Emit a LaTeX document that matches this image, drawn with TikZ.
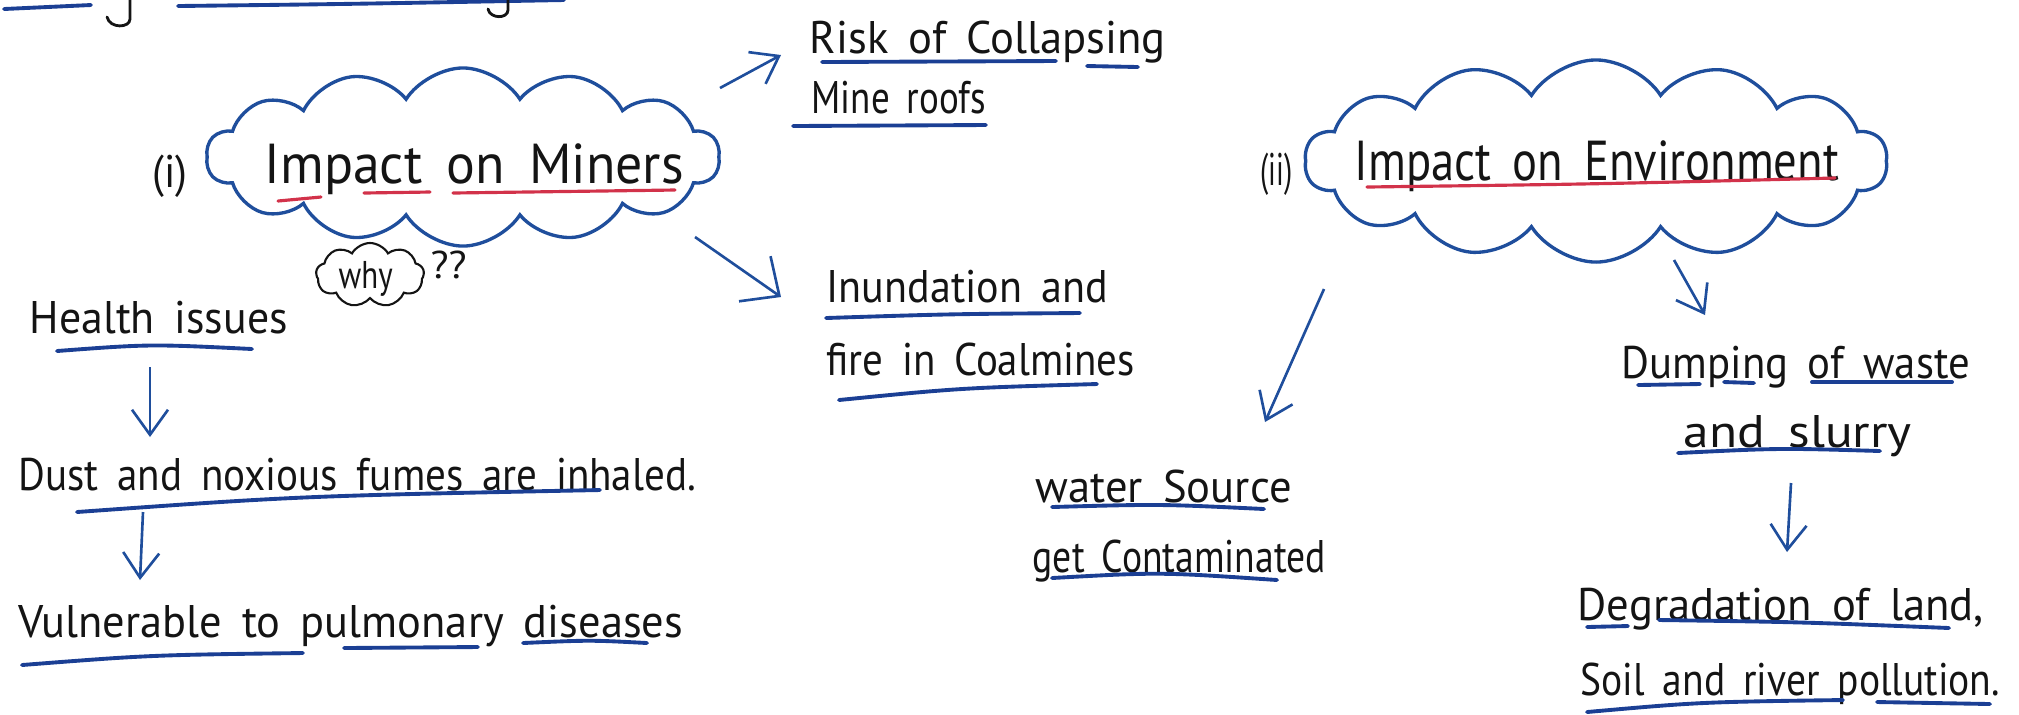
\documentclass[tikz,border=0pt]{standalone}
\usepackage{graphicx}
\usepackage{fontspec}
\setmainfont{PT Sans}[WordSpace=1.7]
\usetikzlibrary{shapes.symbols,arrows.meta}
\definecolor{inkblue}{HTML}{1F4E9C}
\definecolor{ulblue}{HTML}{1B3F94}
\definecolor{inkred}{HTML}{D2324A}
\definecolor{ink}{HTML}{141414}
\newsavebox\hwbox
\newcommand\hwfit[2]{\sbox\hwbox{#2}\pgfmathsetmacro\hwratio{#1*0.284528/\wd\hwbox}\scalebox{\hwratio}[1]{\usebox\hwbox}}
\tikzset{
 txt/.style={anchor=base west, inner sep=0pt, text=ink, font=\fontsize{13}{15}\selectfont},
 bigtxt/.style={txt, font=\fontsize{16}{19}\selectfont},
 smalltxt/.style={txt, font=\fontsize{11}{13}\selectfont},
 thought/.style={cloud, draw=inkblue, line width=0.95pt, cloud puffs=14, cloud puff arc=115, cloud ignores aspect, inner sep=0pt},
 whycloud/.style={cloud, draw=ink, line width=0.6pt, cloud puffs=9, cloud puff arc=120, cloud ignores aspect, inner sep=0pt},
 flow/.style={draw=inkblue, line width=0.75pt, -{Straight Barb[length=2.5mm,width=3.6mm,line width=0.75pt]}},
 bigflow/.style={flow, -{Straight Barb[length=3mm,width=5.5mm,line width=0.75pt]}},
 ul/.style={draw=ulblue, line width=1.1pt, line cap=round},
 ulred/.style={draw=inkred, line width=0.9pt, line cap=round},
 stub/.style={draw=ink, line width=0.8pt, line cap=round},
}
\begin{document}
\begin{tikzpicture}[x=0.01cm,y=-0.01cm]
\useasboundingbox (0,0) rectangle (2019,714);
% fragments of the line above
\draw[ul] (4,9) -- (91,5);
\draw[ul] (178,6) .. controls (350,4) .. (564,0);
\draw[stub] (130,0) -- (130,19) .. controls (130,28) and (110,29) .. (107,17);
\draw[stub] (508,0) -- (508,10) .. controls (508,19) and (490,19) .. (488,9);
% clouds
\node[thought, minimum width=5.13cm, minimum height=1.78cm] (c1) at (463,157) {};
\node[thought, minimum width=5.82cm, minimum height=2.02cm] (c2) at (1596,161) {};
\node[bigtxt] (t1) at (264,183) {\hwfit{419}{Impact on Miners}};
\node[bigtxt] (t2) at (1354,180) {\hwfit{484}{Impact on Environment}};
\node[txt] (n1) at (152,187) {\hwfit{35}{(i)}};
\node[txt] (n2) at (1260,185) {\hwfit{32}{(ii)}};
\draw[ulred] (278,201) -- (321,197);
\draw[ulred] (364,193) -- (430,192);
\draw[ulred] (453,193) -- (675,190);
\draw[ulred] (1367,187) .. controls (1600,184) .. (1835,178);
% why
\node[whycloud, minimum width=1.08cm, minimum height=0.64cm] (wc) at (370,275) {};
\node[smalltxt] (why) at (338,288) {\hwfit{54}{why}};
\node[smalltxt] (qq) at (430,278) {\hwfit{36}{??}};
% texts
\node[txt] (risk1) at (809,53) {\hwfit{356}{Risk of Collapsing}};
\node[txt] (risk2) at (811,113) {\hwfit{174}{Mine roofs}};
\node[txt] (inu1) at (826,302) {\hwfit{281}{Inundation and}};
\node[txt] (inu2) at (826,375) {\hwfit{308}{fire in Coalmines}};
\node[txt] (hea) at (29,333) {\hwfit{258}{Health issues}};
\node[txt] (dust) at (18,490) {\hwfit{677}{Dust and noxious fumes are inhaled.}};
\node[txt] (vul) at (18,637) {\hwfit{664}{Vulnerable to pulmonary diseases}};
\node[txt] (wat1) at (1035,502) {\hwfit{256}{water Source}};
\node[txt] (wat2) at (1032,572) {\hwfit{293}{get Contaminated}};
\node[txt] (dum1) at (1621,378) {\hwfit{348}{Dumping of waste}};
\node[txt] (dum2) at (1683,447) {\hwfit{228}{and slurry}};
\node[txt] (deg1) at (1577,620) {\hwfit{406}{Degradation of land,}};
\node[txt] (deg2) at (1580,695) {\hwfit{419}{Soil and river pollution.}};
% underlines
\draw[ul] (822,62) -- (1056,61);
\draw[ul] (1087,66) -- (1138,67);
\draw[ul] (793,126) -- (986,125);
\draw[ul] (826,318) .. controls (950,314) .. (1080,313);
\draw[ul] (839,400) .. controls (960,388) .. (1097,384);
\draw[ul] (57,351) .. controls (150,344) .. (252,349);
\draw[ul] (77,512) .. controls (300,496) .. (600,490);
\draw[ul] (22,665) .. controls (150,655) .. (303,653);
\draw[ul] (344,648) -- (478,647);
\draw[ul] (523,643) .. controls (590,640) .. (647,643);
\draw[ul] (1052,507) .. controls (1160,504) .. (1264,509);
\draw[ul] (1052,578) .. controls (1160,572) .. (1277,580);
\draw[ul] (1638,385) -- (1700,384);
\draw[ul] (1724,382) -- (1754,383);
\draw[ul] (1812,382) -- (1952,382);
\draw[ul] (1678,453) .. controls (1780,448) .. (1880,451);
\draw[ul] (1587,627) -- (1628,626);
\draw[ul] (1659,620) .. controls (1800,622) .. (1949,628);
\draw[ul] (1587,712) .. controls (1700,702) .. (1843,700);
\draw[ul] (1877,702) -- (1990,704);
% connectors
\coordinate (a1s) at (720,88);   \coordinate (a1e) at (781,55);
\coordinate (a2s) at (695,237);  \coordinate (a2e) at (781,297);
\coordinate (a3s) at (150,367);  \coordinate (a3e) at (150,437);
\coordinate (a4s) at (143,512);  \coordinate (a4e) at (140,580);
\coordinate (a5s) at (1324,289); \coordinate (a5e) at (1265,422);
\coordinate (a6s) at (1674,260); \coordinate (a6e) at (1705,315);
\coordinate (a7s) at (1791,483); \coordinate (a7e) at (1787,552);
\draw[flow] (a1s) -- (a1e);
\draw[bigflow] (a2s) -- (a2e);
\draw[flow] (a3s) -- (a3e);
\draw[flow] (a4s) -- (a4e);
\draw[flow] (a5s) -- (a5e);
\draw[flow] (a6s) -- (a6e);
\draw[flow] (a7s) -- (a7e);
\end{tikzpicture}
\end{document}
